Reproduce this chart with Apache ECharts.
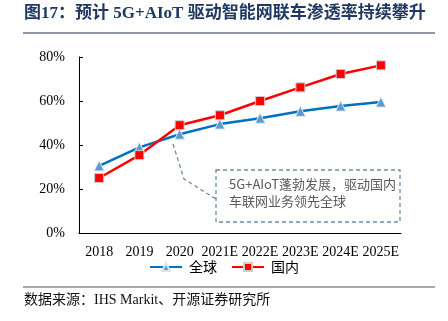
<!DOCTYPE html>
<html><head><meta charset="utf-8">
<script src="https://cdn.jsdelivr.net/npm/echarts@6/dist/echarts.min.js"></script>
<style>html,body{margin:0;padding:0;background:#fff}#c{width:448px;height:321px}</style>
</head><body><div id="c"></div>
<script>
const categories = ['2018','2019','2020','2021E','2022E','2023E','2024E','2025E'];
const globalValues = [30.5, 38.9, 44.9, 49.5, 52.2, 55.3, 57.7, 59.5];
const domesticValues = [25.0, 35.4, 49.0, 53.5, 60.0, 66.2, 72.3, 76.2];
const yTicks = [0, 20, 40, 60, 80];
const seriesNames = ['全球', '国内'];
const titleText = '图17：预计 5G+AIoT 驱动智能网联车渗透率持续攀升';
const sourceText = '数据来源：IHS Markit、开源证券研究所';
const noteLines = ['5G+AIoT蓬勃发展，驱动国内', '车联网业务领先全球'];

const serif = '"Liberation Serif", "Noto Sans CJK SC", serif';
const chart = echarts.init(document.getElementById('c'));
chart.setOption({
  animation: false,
  grid: {left: 79, right: 47, top: 57, bottom: 88},
  xAxis: {
    type: 'category', data: categories, boundaryGap: true,
    axisLine: {lineStyle: {color: '#000', width: 1}},
    axisTick: {inside: true, length: 4, lineStyle: {color: '#000'}},
    axisLabel: {color: '#000', fontFamily: serif, fontSize: 14, margin: 12, interval: 0}
  },
  yAxis: {
    type: 'value', min: yTicks[0], max: yTicks[yTicks.length-1], interval: 20,
    axisLine: {show: true, lineStyle: {color: '#000', width: 1}},
    axisTick: {show: true, inside: true, length: 4, lineStyle: {color: '#000'}},
    splitLine: {show: false},
    axisLabel: {color: '#000', fontFamily: serif, fontSize: 14, margin: 14, formatter: v => v + '%'}
  },
  legend: {
    bottom: 42, left: 'center', itemGap: 14, itemWidth: 32, itemHeight: 10,
    textStyle: {fontFamily: '"Noto Sans CJK SC"', fontSize: 14, color: '#000', padding: [0, 0, 0, 2]},
    data: seriesNames
  },
  series: [
    {name: seriesNames[0], type: 'line', data: globalValues,
     symbol: 'triangle', symbolSize: 10,
     lineStyle: {color: '#0070C0', width: 2.5},
     itemStyle: {color: '#5B9BD5', borderColor: '#dde6ef', borderWidth: 1}},
    {name: seriesNames[1], type: 'line', data: domesticValues,
     symbol: 'rect', symbolSize: 9, z: 3,
     lineStyle: {color: '#FF0000', width: 2.5},
     itemStyle: {color: '#FF0000', borderColor: '#cccccc', borderWidth: 1}}
  ],
  graphic: [
    {type: 'text', left: 24, top: 5, style: {text: titleText, fontFamily: serif, fontWeight: 'bold', fontSize: 17, fill: '#1F3864'}},
    {type: 'line', shape: {x1: 23, y1: 33, x2: 435, y2: 33}, style: {stroke: '#1F2A44', lineWidth: 1}},
    {type: 'line', shape: {x1: 23, y1: 287, x2: 435, y2: 287}, style: {stroke: '#555', lineWidth: 1}},
    {type: 'text', left: 24, top: 293, style: {text: sourceText, fontFamily: serif, fontSize: 14, fill: '#111'}},
    {type: 'rect', shape: {x: 216, y: 170, width: 184, height: 52}, style: {fill: '#fff', stroke: '#6E8CA6', lineWidth: 1.3, lineDash: [4, 3]}, z: 10},
    {type: 'polyline', shape: {points: [[173, 144], [184, 179], [216, 199]]}, style: {fill: null, stroke: '#6E8CA6', lineWidth: 1.3, lineDash: [4, 3]}, z: 10},
    {type: 'text', left: 229, top: 176, z: 11, style: {text: noteLines.join('\n'), lineHeight: 17, fontFamily: '"Noto Sans CJK SC"', fontSize: 13, fill: '#5a5a5a'}}
  ]
});
</script></body></html>
